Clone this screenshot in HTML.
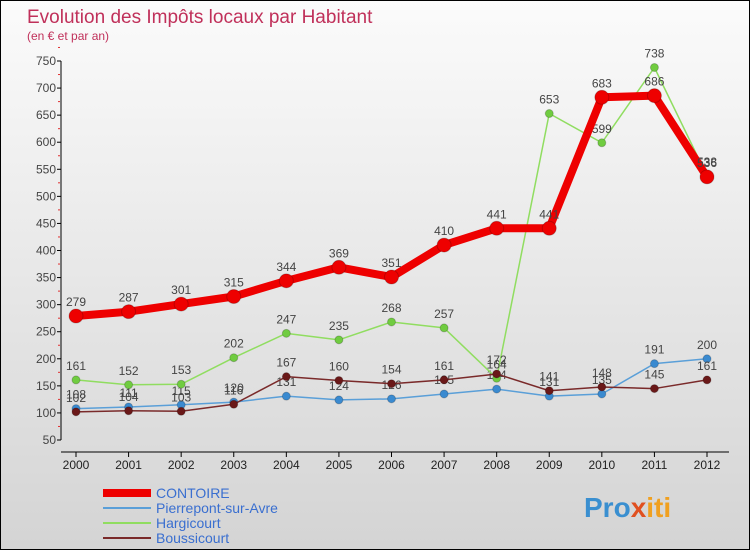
<!DOCTYPE html>
<html><head><meta charset="utf-8">
<style>
body{margin:0;width:750px;height:550px;overflow:hidden;font-family:"Liberation Sans",sans-serif}
#wrap{position:relative;width:748px;height:548px;border:1px solid #000;background:linear-gradient(#fbfbfb,#d4d4d4)}
svg{position:absolute;left:0;top:0}
</style></head><body>
<div id="wrap">
<svg id="chart" width="748" height="548">
<text x="26" y="22" font-size="19" fill="#c0305a">Evolution des Impôts locaux par Habitant</text>
<text x="26" y="39" font-size="12" fill="#c0305a">(en € et par an)</text>
<text x="583" y="516" font-size="28" font-weight="bold" fill="#3a8fd0">Pro<tspan fill="#e05020">x</tspan><tspan fill="#f0a020">iti</tspan></text>
</svg>
</div>
<script>
const years=[2000,2001,2002,2003,2004,2005,2006,2007,2008,2009,2010,2011,2012];
const yTicks=[50,100,150,200,250,300,350,400,450,500,550,600,650,700,750];
const contoire=[279,287,301,315,344,369,351,410,441,441,683,686,536];
const pierrepont=[108,111,115,120,131,124,126,135,144,131,135,191,200];
const hargicourt=[161,152,153,202,247,235,268,257,164,653,599,738,538];
const boussicourt=[102,104,103,116,167,160,154,161,172,141,148,145,161];
const seriesNames=["CONTOIRE","Pierrepont-sur-Avre","Hargicourt","Boussicourt"];
const NS="http://www.w3.org/2000/svg";
const svg=document.getElementById('chart');
const X=i=>75+i*(706-75)/(years.length-1);
const Y=v=>439-(v-50)*(439-60)/700;
function mk(t,a){const e=document.createElementNS(NS,t);for(const k in a)e.setAttribute(k,a[k]);svg.appendChild(e);return e;}
// axes
let ax=mk('line',{x1:60,y1:60,x2:60,y2:439,stroke:'#000'});


let bx=mk('line',{x1:60,y1:451,x2:728,y2:451,stroke:'#000'});


yTicks.forEach(v=>{
 mk('line',{x1:56,y1:Y(v),x2:60,y2:Y(v),stroke:'#000'});
 mk('line',{x1:57,y1:Y(v+25),x2:59,y2:Y(v+25),stroke:'#e03030'});
 const t=mk('text',{x:55,y:Y(v)+4,'font-size':12,fill:'#444','text-anchor':'end'});
 t.textContent=v;
 
 
});
years.forEach((yr,i)=>{
 mk('line',{x1:X(i),y1:451,x2:X(i),y2:456,stroke:'#000'});
 const t=mk('text',{x:X(i),y:468,'font-size':12,fill:'#222','text-anchor':'middle'});
 t.textContent=yr;
 
 
});
function series(d,color,w,r,fill,name){
 const p=mk('polyline',{points:d.map((v,i)=>X(i)+','+Y(v)).join(' '),fill:'none',stroke:color,'stroke-width':w,'stroke-linejoin':'round'});
 
 
 d.forEach((v,i)=>{
  const c=mk('circle',{cx:X(i),cy:Y(v),r:r,fill:fill,stroke:'rgba(0,0,0,0.2)'});
  
  
  const t=mk('text',{x:X(i),y:Y(v)-10,'font-size':12,fill:'#444','text-anchor':'middle'});
  t.textContent=v;
  
  
 });
}
series(pierrepont,'#5a9fd8',1.5,4,'#3a8ad0','pierrepont');
series(hargicourt,'#90dd60',1.5,4,'#70cc40','hargicourt');
series(boussicourt,'#7a2a2a',1.5,4,'#6a1818','boussicourt');
series(contoire,'#ee0000',8,7,'#ee0000','contoire');
const lc=[['#ee0000',8],['#5a9fd8',2],['#90dd60',2],['#7a2a2a',2]];
seriesNames.forEach((n,i)=>{
 const y=492+i*15;
 const l=mk('line',{x1:102,y1:y,x2:150,y2:y,stroke:lc[i][0],'stroke-width':lc[i][1]});
 
 
 const t=mk('text',{x:155,y:y+5,'font-size':14,fill:'#3a6fd0'});
 t.textContent=n;
 
 
});
</script>
</body></html>
